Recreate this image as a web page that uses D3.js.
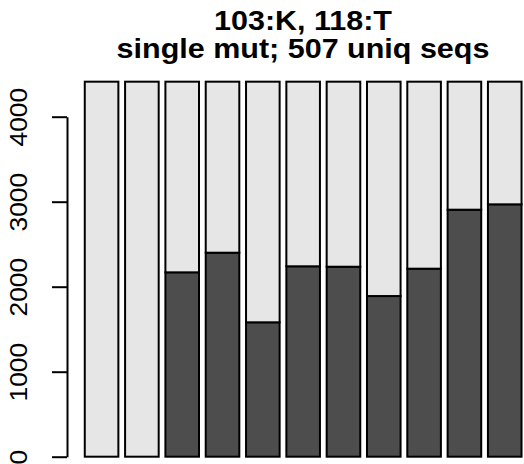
<!DOCTYPE html>
<html>
<head>
<meta charset="utf-8">
<script src="https://cdn.jsdelivr.net/npm/d3@7"></script>
<style>
  html, body { margin: 0; padding: 0; background: #fff; }
  svg { display: block; }
  text { font-family: "Liberation Sans", Arial, Helvetica, sans-serif; }
</style>
</head>
<body>
<svg id="chart" width="524" height="464"></svg>
<script>
// ---- data ----
const categories = ["1","2","3","4","5","6","7","8","9","10","11"];
const darkValues  = [0, 0, 2169, 2400, 1581, 2240, 2235, 1890, 2212, 2906, 2969];
const lightValues = [4412, 4412, 2243, 2012, 2831, 2172, 2177, 2522, 2200, 1506, 1443];
const yTicks = [0, 1000, 2000, 3000, 4000];
const titleLines = ["103:K, 118:T", "single mut; 507 uniq seqs"];

const svg = d3.select("#chart");

const table = categories.map((c, i) => ({ cat: c, dark: darkValues[i], light: lightValues[i] }));
const stack = d3.stack().keys(["dark", "light"]);
const series = stack(table);
const fills = { dark: "#4d4d4d", light: "#e6e6e6" };

// R barplot coordinates: width 1, space 0.2
const x = d3.scaleLinear().domain([-0.32, 13.72]).range([67.3, 539]);
const y = d3.scaleLinear().domain([0, 4000]).range([456.7, 116.7]);

const gBars = svg.append("g");
series.forEach(s => {
  gBars.selectAll(null)
    .data(s)
    .enter().append("rect")
    .attr("x", (d, i) => x(0.2 + i * 1.2))
    .attr("width", x(1) - x(0))
    .attr("y", d => y(d[1]))
    .attr("height", d => y(d[0]) - y(d[1]))
    .attr("fill", fills[s.key])
    .attr("stroke", "#000")
    .attr("stroke-width", 2);
});

// y axis
const axis = d3.axisLeft(y).tickValues(yTicks).tickSize(15).tickSizeOuter(0).tickFormat(d3.format("d"));
const gAxis = svg.append("g").attr("transform", "translate(67,0)").call(axis);
gAxis.select(".domain").attr("stroke", "#000").attr("stroke-width", 2);
gAxis.selectAll(".tick line").attr("stroke", "#000").attr("stroke-width", 2);
gAxis.selectAll(".tick text")
  .attr("x", 0).attr("dy", 0)
  .attr("transform", "translate(-40,0) rotate(-90) scale(1.1,1)")
  .attr("text-anchor", "middle")
  .attr("fill", "#000")
  .style("font-size", "24px")
  .style("font-family", "'Liberation Sans', Arial, sans-serif");

// title (one text element, two lines), slightly widened like the reference
const title = svg.append("text")
  .attr("transform", "translate(303,0) scale(1.09,1)")
  .attr("text-anchor", "middle")
  .style("font-size", "28px")
  .style("font-weight", "bold");
title.selectAll("tspan")
  .data(titleLines)
  .enter().append("tspan")
  .attr("x", 0)
  .attr("y", (d, i) => 30 + i * 28.5)
  .text(d => d);
</script>
</body>
</html>
